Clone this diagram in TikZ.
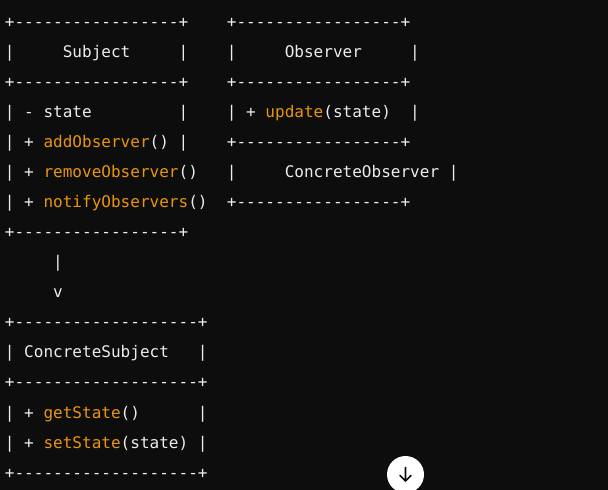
\documentclass[tikz,border=0pt]{standalone}
\usepackage{fontspec}
\setmonofont{DejaVu Sans Mono}
\definecolor{codebg}{HTML}{0D0D0D}
\definecolor{codefg}{HTML}{ECECEC}
\definecolor{codefn}{HTML}{E9950C}
\newcommand{\fn}[1]{\textcolor{codefn}{#1}}
\tikzset{
  codeline/.style={anchor=base west, inner sep=0pt, text=codefg,
    font=\ttfamily\fontsize{16.03pt}{30pt}\selectfont},
  scrollbtn/.style={circle, fill=white, minimum size=37pt, inner sep=0pt}
}
\begin{document}
\begin{tikzpicture}
\fill[codebg] (0pt,0pt) rectangle (608pt,490pt);
\useasboundingbox (0pt,0pt) rectangle (608pt,490pt);
\begin{scope}[x=9.65pt, y=-30.04pt, shift={(4.7pt,462.5pt)}]
% Subject
\node[codeline] (subjtop)  at (0,0) {+-----------------+};
\node[codeline] (subjname) at (0,1) {|~~~~~Subject~~~~~|};
\node[codeline] (subjsep)  at (0,2) {+-----------------+};
\node[codeline] (subjattr) at (0,3) {|~-~state~~~~~~~~~|};
\node[codeline] (subjadd)  at (0,4) {|~+~\fn{addObserver}()~|};
\node[codeline] (subjrem)  at (0,5) {|~+~\fn{removeObserver}()};
\node[codeline] (subjnot)  at (0,6) {|~+~\fn{notifyObservers}()};
\node[codeline] (subjbot)  at (0,7) {+-----------------+};
% Observer
\node[codeline] (obstop)   at (23,0) {+-----------------+};
\node[codeline] (obsname)  at (23,1) {|~~~~~Observer~~~~~|};
\node[codeline] (obssep)   at (23,2) {+-----------------+};
\node[codeline] (obsupd)   at (23,3) {|~+~\fn{update}(state)~~|};
\node[codeline] (obsbot)   at (23,4) {+-----------------+};
\node[codeline] (cobsname) at (23,5) {|~~~~~ConcreteObserver~|};
\node[codeline] (cobsbot)  at (23,6) {+-----------------+};
% arrow
\node[codeline] (arrbar)   at (5,8) {|};
\node[codeline] (arrtip)   at (5,9) {v};
% ConcreteSubject
\node[codeline] (csubtop)  at (0,10) {+-------------------+};
\node[codeline] (csubname) at (0,11) {|~ConcreteSubject~~~|};
\node[codeline] (csubsep)  at (0,12) {+-------------------+};
\node[codeline] (csubget)  at (0,13) {|~+~\fn{getState}()~~~~~~|};
\node[codeline] (csubset)  at (0,14) {|~+~\fn{setState}(state)~|};
\node[codeline] (csubbot)  at (0,15) {+-------------------+};
\end{scope}
% scroll button
\node[scrollbtn] (btn) at (405.5pt,15.5pt) {};
\draw[codebg, line width=1.6pt, line cap=round, line join=round]
  ([yshift=7pt]btn.center) -- ([yshift=-6.5pt]btn.center)
  ([xshift=-5.5pt,yshift=-1pt]btn.center) -- ([yshift=-6.5pt]btn.center)
  -- ([xshift=5.5pt,yshift=-1pt]btn.center);
\end{tikzpicture}
\end{document}
